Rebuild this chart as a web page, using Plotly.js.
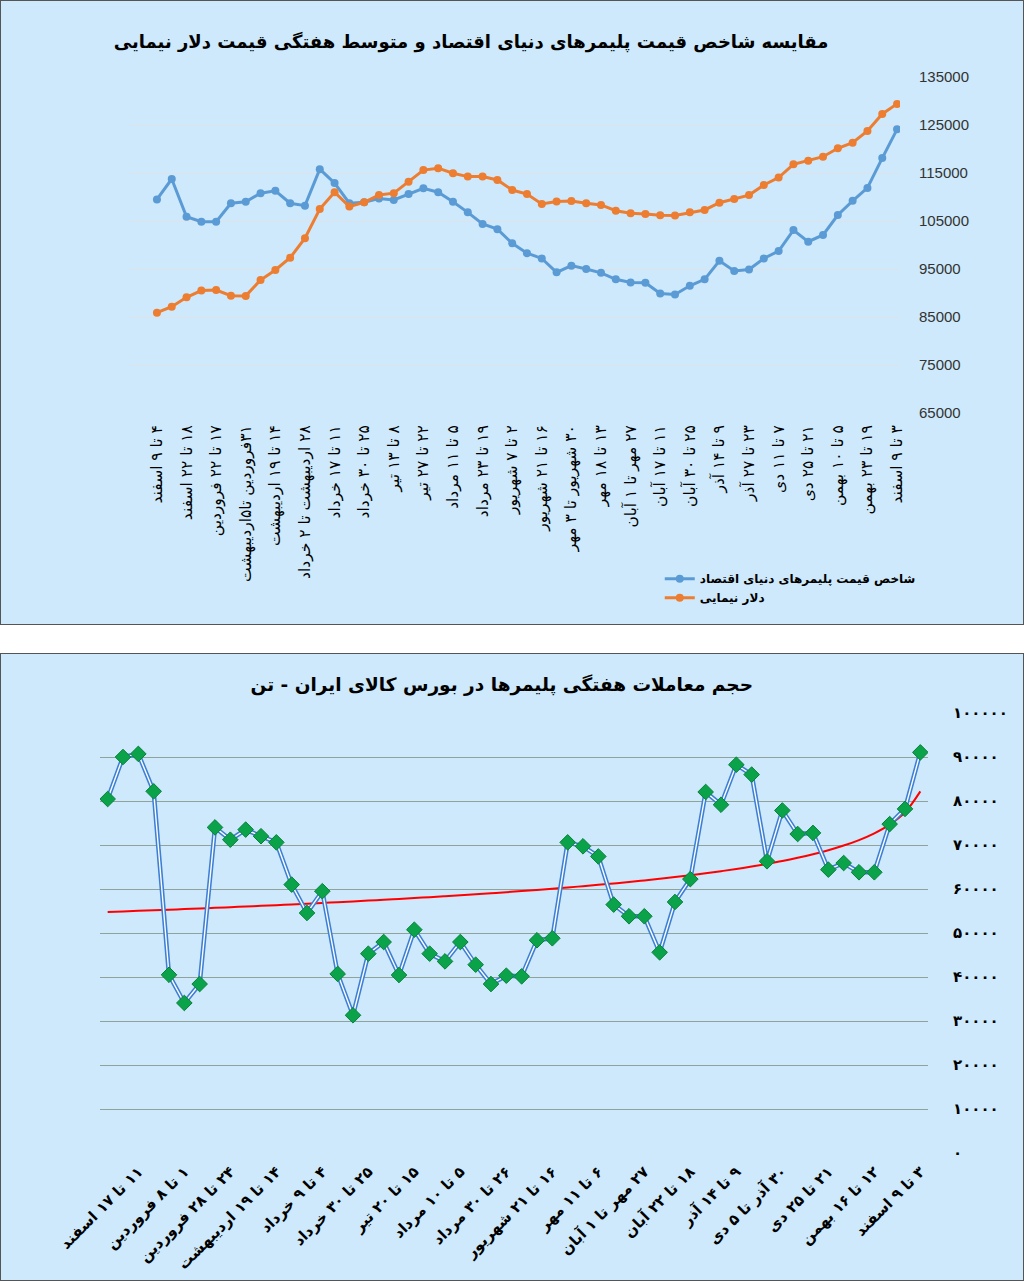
<!DOCTYPE html>
<html>
<head>
<meta charset="utf-8">
<script src="https://cdn.plot.ly/plotly-3.0.1.min.js"></script>
<style>
  body { margin: 0; background: #ffffff; }
  .panel { position: absolute; left: 0; width: 1022px; border: 1px solid #555555; background: #cde9fb; }
  #top { top: 0; height: 623px; }
  #bottom { top: 653px; height: 626px; }
</style>
</head>
<body>
<div id="top" class="panel"></div>
<div id="bottom" class="panel"></div>
<script>
// chart 1: polymer price index vs. Nima dollar (weekly)
var weeksTop = ['۴ تا ۹ اسفند', '۱۸ تا ۲۲ اسفند', '۱۷ تا ۲۲ فروردین', '۳۱فروردین تا۵اردیبهشت',
  '۱۴ تا ۱۹ اردیبهشت', '۲۸ اردیبهشت تا ۲ خرداد', '۱۱ تا ۱۷ خرداد', '۲۵ تا ۳۰ خرداد', '۸ تا ۱۳ تیر',
  '۲۲ تا ۲۷ تیر', '۵ تا ۱۱ مرداد', '۱۹ تا ۲۳ مرداد', '۲ تا ۷ شهریور', '۱۶ تا ۲۱ شهریور',
  '۳۰ شهریور تا ۳ مهر', '۱۳ تا ۱۸ مهر', '۲۷ مهر تا ۱ آبان', '۱۱ تا ۱۷ آبان', '۲۵ تا ۳۰ آبان',
  '۹ تا ۱۴ آذر', '۲۳ تا ۲۷ آذر', '۷ تا ۱۱ دی', '۲۱ تا ۲۵ دی', '۵ تا ۱۰ بهمن', '۱۹ تا ۲۳ بهمن',
  '۳ تا ۹ اسفند'];

var polymerIndex = [109500, 113750, 105900, 104850, 104850, 108700, 109000, 110800, 111300, 108700,
  108200, 115800, 112900, 108700, 108900, 109700, 109400, 110600, 111800, 111000,
  109000, 106800, 104400, 103300, 100350, 98300, 97200, 94300, 95700, 95000,
  94200, 92850, 92200, 92150, 89900, 89700, 91500, 92850, 96700, 94600,
  94900, 97200, 98750, 103100, 100700, 102100, 106250, 109200, 111900, 118100, 124100];

var nimaDollar = [85900, 87150, 89100, 90500, 90600, 89450, 89400, 92700, 94800, 97350,
  101400, 107500, 111000, 108000, 108900, 110400, 110800, 113200, 115600, 116000,
  114950, 114250, 114250, 113550, 111450, 110600, 108550, 109050, 109150, 108700,
  108350, 107150, 106600, 106450, 106200, 106150, 106800, 107300, 108800, 109600,
  110400, 112500, 114050, 116800, 117550, 118400, 120150, 121300, 123750, 127300, 129400];

// chart 2: weekly polymer trading volume (tonnes)
var weeksBottom = ['۱۱ تا ۱۷ اسفند', '۱ تا ۸ فروردین', '۲۴ تا ۲۸ فروردین', '۱۴ تا ۱۹ اردیبهشت',
  '۴ تا ۹ خرداد', '۲۵ تا ۳۰ خرداد', '۱۵ تا ۲۰ تیر', '۵ تا ۱۰ مرداد', '۲۶ تا ۳۰ مرداد',
  '۱۶ تا ۲۱ شهریور', '۶ تا ۱۱ مهر', '۲۷ مهر تا ۱ آبان', '۱۸ تا ۲۲ آبان', '۹ تا ۱۴ آذر',
  '۳۰ آذر تا ۵ دی', '۲۱ تا ۲۵ دی', '۱۲ تا ۱۶ بهمن', '۳ تا ۹ اسفند'];

var tradeVolume = [80450, 90000, 90700, 82200, 40500, 34100, 38400, 74000, 71200, 73500,
  72000, 70600, 61000, 54550, 59500, 40700, 31300, 45300, 47950, 40450,
  50750, 45300, 43550, 47950, 42800, 38400, 40300, 40150, 48350, 48800,
  70600, 69700, 67400, 56450, 53800, 53800, 45600, 57050, 62250, 82050,
  79150, 88250, 86000, 66300, 77850, 72500, 72750, 64400, 65900, 63800,
  63800, 74750, 78200, 91050];

// trend line
var volumeTrend = [54770, 54900, 55030, 55160, 55300, 55430, 55580, 55720, 55870, 56020,
  56180, 56330, 56490, 56660, 56830, 57000, 57180, 57370, 57550, 57750,
  57950, 58150, 58360, 58580, 58810, 59040, 59280, 59530, 59790, 60060,
  60340, 60640, 60940, 61260, 61590, 61950, 62320, 62710, 63120, 63570,
  64050, 64550, 65100, 65700, 66350, 67080, 67890, 68810, 69870, 71120,
  72660, 74630, 77420, 82180];

var volTickVals = [0, 10000, 20000, 30000, 40000, 50000, 60000, 70000, 80000, 90000, 100000];
var volTickText = ['۰', '۱۰۰۰۰', '۲۰۰۰۰', '۳۰۰۰۰', '۴۰۰۰۰', '۵۰۰۰۰', '۶۰۰۰۰', '۷۰۰۰۰', '۸۰۰۰۰', '۹۰۰۰۰', '۱۰۰۰۰۰'];

var FA = 'DejaVu Sans, sans-serif';
var BG = '#cde9fb';

// keep right-to-left order inside svg text (digits first)
function rtl(s) { return '\u202B' + s + '\u202C'; }

var idxTop = polymerIndex.map(function (v, i) { return i; });
var tickTop = weeksTop.map(function (w, i) { return i * 2; });

var traceIndex = {
  x: idxTop, y: polymerIndex, type: 'scatter', mode: 'lines+markers',
  name: 'شاخص قیمت پلیمرهای دنیای اقتصاد',
  line: { color: '#5b9bd5', width: 3 },
  marker: { color: '#5b9bd5', size: 8 }
};
var traceDollar = {
  x: idxTop, y: nimaDollar, type: 'scatter', mode: 'lines+markers',
  name: 'دلار نیمایی',
  line: { color: '#ed7d31', width: 3 },
  marker: { color: '#ed7d31', size: 8 }
};

var layoutTop = {
  width: 1022, height: 623,
  paper_bgcolor: BG, plot_bgcolor: BG,
  margin: { l: 129, r: 123, t: 76, b: 211 },
  title: {
    text: 'مقایسه شاخص قیمت پلیمرهای دنیای اقتصاد و متوسط هفتگی قیمت دلار نیمایی',
    font: { family: FA, size: 18, color: '#000000', weight: 'bold' },
    x: 0.46, xanchor: 'center', y: 0.935, yanchor: 'middle'
  },
  xaxis: {
    range: [-1.82, 50.2], tickvals: tickTop, ticktext: weeksTop.map(rtl),
    tickangle: -90, showgrid: false, zeroline: false, showline: false,
    ticklabelstandoff: 8,
    tickfont: { family: FA, size: 15.5, color: '#000000' }
  },
  yaxis: {
    side: 'right', range: [65000, 135000], tick0: 65000, dtick: 10000, tickformat: 'd',
    gridcolor: '#dde3e8', gridwidth: 1, zeroline: false, showline: false,
    ticklabelstandoff: 18,
    tickfont: { family: 'Liberation Sans Narrow, Liberation Sans, sans-serif', size: 15, color: '#333333' }
  },
  showlegend: true,
  legend: {
    x: 0.688, y: -0.45, xanchor: 'left', yanchor: 'top',
    bgcolor: 'rgba(0,0,0,0)',
    font: { family: FA, size: 12, color: '#000000', weight: 'bold' }
  }
};

Plotly.newPlot('top', [traceIndex, traceDollar], layoutTop, { displayModeBar: false });

var idxBottom = tradeVolume.map(function (v, i) { return i; });
var tickBottom = weeksBottom.map(function (w, i) { return 2 + i * 3; });

var traceTrend = {
  x: idxBottom, y: volumeTrend, type: 'scatter', mode: 'lines',
  line: { color: '#ff0000', width: 2, shape: 'spline' }, hoverinfo: 'skip'
};
var traceVolOuter = {
  x: idxBottom, y: tradeVolume, type: 'scatter', mode: 'lines',
  line: { color: '#3d7fd4', width: 4.5 }, hoverinfo: 'skip'
};
var traceVol = {
  x: idxBottom, y: tradeVolume, type: 'scatter', mode: 'lines+markers',
  line: { color: '#ffffff', width: 1.4 },
  marker: { symbol: 'diamond', color: '#0aa34a', size: 12, line: { color: '#07803a', width: 1 } }
};

var layoutBottom = {
  width: 1022, height: 626,
  paper_bgcolor: BG, plot_bgcolor: BG,
  margin: { l: 99, r: 95, t: 59, b: 127 },
  showlegend: false,
  title: {
    text: 'حجم معاملات هفتگی پلیمرها در بورس کالای ایران - تن',
    font: { family: FA, size: 18.5, color: '#000000', weight: 'bold' },
    x: 0.49, xanchor: 'center', y: 0.952, yanchor: 'middle'
  },
  xaxis: {
    range: [-0.5, 53.5], tickvals: tickBottom, ticktext: weeksBottom.map(rtl),
    tickangle: -45, showgrid: false, zeroline: false, showline: false,
    ticklabelstandoff: 6,
    tickfont: { family: FA, size: 15, color: '#000000', weight: 'bold' }
  },
  yaxis: {
    side: 'right', range: [0, 100000], tickvals: volTickVals, ticktext: volTickText,
    gridcolor: '#8fa39b', gridwidth: 1, zeroline: false, showline: false,
    ticklabelstandoff: 24,
    tickfont: { family: FA, size: 15, color: '#000000', weight: 'bold' }
  }
};

Plotly.newPlot('bottom', [traceTrend, traceVolOuter, traceVol], layoutBottom, { displayModeBar: false });
</script>
</body>
</html>
